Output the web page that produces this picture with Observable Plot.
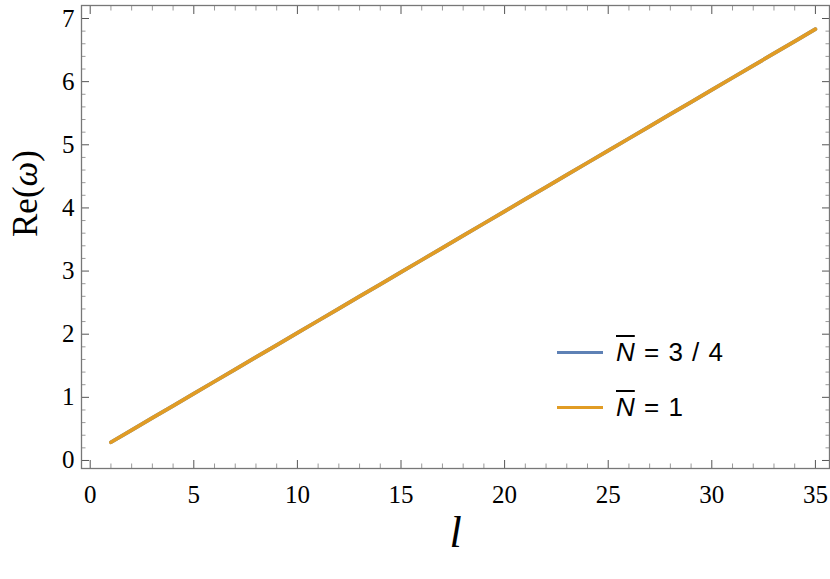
<!DOCTYPE html>
<html><head><meta charset="utf-8">
<script src="https://cdn.jsdelivr.net/npm/d3@7"></script>
<script src="https://cdn.jsdelivr.net/npm/@observablehq/plot@0.6"></script>
<style>
body{margin:0;background:#fff}
#wrap{position:relative;width:830px;height:579px}
#legend{position:absolute;left:557px;top:325px;font-family:"Liberation Sans",Arial,sans-serif;font-size:26px;color:#000;word-spacing:2px}
.row{display:flex;align-items:center;height:55px}
.sw{display:inline-block;width:46px;height:3.5px;margin-right:13px}
.nb{font-style:italic;text-decoration:overline;text-decoration-thickness:2px}
</style></head>
<body><div id="wrap"><div id="legend"></div></div>
<script>
const ls = [1,2,3,4,5,6,7,8,9,10,11,12,13,14,15,16,17,18,19,20,21,22,23,24,25,26,27,28,29,30,31,32,33,34,35];
const reN34 = [0.289,0.481,0.674,0.866,1.058,1.251,1.443,1.636,1.828,2.021,2.213,2.406,2.598,2.790,2.983,3.175,3.368,3.560,3.753,3.945,4.138,4.330,4.522,4.715,4.907,5.100,5.292,5.485,5.677,5.870,6.062,6.254,6.447,6.639,6.832];
const reN1  = [0.289,0.481,0.674,0.866,1.058,1.251,1.443,1.636,1.828,2.021,2.213,2.406,2.598,2.790,2.983,3.175,3.368,3.560,3.753,3.945,4.138,4.330,4.522,4.715,4.907,5.100,5.292,5.485,5.677,5.870,6.062,6.254,6.447,6.639,6.832];
const seriesLabels = ["3 / 4", "1"];
const seriesColors = ["#5E81B5", "#E19C24"];
const xMajor = [0,5,10,15,20,25,30,35];
const xMinor = [1,2,3,4,6,7,8,9,11,12,13,14,16,17,18,19,21,22,23,24,26,27,28,29,31,32,33,34];
const yMajor = [0,1,2,3,4,5,6,7];
const yMinor = [0.2,0.4,0.6,0.8,1.2,1.4,1.6,1.8,2.2,2.4,2.6,2.8,3.2,3.4,3.6,3.8,4.2,4.4,4.6,4.8,5.2,5.4,5.6,5.8,6.2,6.4,6.6,6.8];
const xTitle = "l";
const yTitle = ["Re(", "ω", ")"];

const rows = [];
[reN34, reN1].forEach((vals, s) => vals.forEach((v, i) => rows.push({l: ls[i], re: v, s})));

const serif = "Liberation Serif";
const majorStroke = "#555";
const minorStroke = "#999";

const plot = Plot.plot({
  width: 830, height: 579,
  marginLeft: 81, marginRight: 1, marginTop: 5, marginBottom: 111,
  x: {domain: [-0.42, 35.68]},
  y: {domain: [-0.127, 7.206]},
  style: {fontSize: "25px", color: "#000", background: "#fff"},
  marks: [
    Plot.line(rows.filter(d => d.s === 0), {x: "l", y: "re", stroke: seriesColors[0], strokeWidth: 3.7}),
    Plot.line(rows.filter(d => d.s === 1), {x: "l", y: "re", stroke: seriesColors[1], strokeWidth: 3.7}),
    Plot.axisX(xMajor, {anchor: "bottom", tickSize: -8, fill: "none", stroke: majorStroke, label: null}),
    Plot.axisX(xMinor, {anchor: "bottom", tickSize: -4.5, fill: "none", stroke: minorStroke, label: null}),
    Plot.axisX(xMajor, {anchor: "top", tickSize: -8, fill: "none", stroke: majorStroke, label: null}),
    Plot.axisX(xMinor, {anchor: "top", tickSize: -4.5, fill: "none", stroke: minorStroke, label: null}),
    Plot.axisY(yMajor, {anchor: "left", tickSize: -8, fill: "none", stroke: majorStroke, label: null}),
    Plot.axisY(yMinor, {anchor: "left", tickSize: -4.5, fill: "none", stroke: minorStroke, label: null}),
    Plot.axisY(yMajor, {anchor: "right", tickSize: -8, fill: "none", stroke: majorStroke, label: null}),
    Plot.axisY(yMinor, {anchor: "right", tickSize: -4.5, fill: "none", stroke: minorStroke, label: null}),
    Plot.text(xMajor, {x: d => d, text: d => String(d), frameAnchor: "bottom", lineAnchor: "top", dy: 17, fontSize: 25, fontFamily: serif}),
    Plot.text(yMajor, {y: d => d, text: d => String(d), frameAnchor: "left", textAnchor: "end", dx: -7, fontSize: 25, fontFamily: serif}),
    Plot.frame({stroke: "#777", strokeWidth: 1.3}),
    Plot.text([xTitle], {frameAnchor: "bottom", dy: 78, text: d => d, fontSize: 44, fontStyle: "italic", fontFamily: serif}),
    Plot.text([yTitle.join("")], {frameAnchor: "left", dx: -56, rotate: -90, text: d => d, fontSize: 35, fontFamily: serif, className: "ytitle"})
  ]
});
document.getElementById("wrap").prepend(plot);

// italic omega inside the y title
const yt = plot.querySelector(".ytitle text");
if (yt) {
  yt.textContent = "";
  yTitle.forEach((part, i) => {
    const ts = document.createElementNS("http://www.w3.org/2000/svg", "tspan");
    ts.textContent = part;
    if (i === 1) ts.setAttribute("font-style", "italic");
    yt.appendChild(ts);
  });
}

const legend = document.getElementById("legend");
seriesLabels.forEach((lab, i) => {
  const row = document.createElement("div");
  row.className = "row";
  row.innerHTML = `<span class="sw" style="background:${seriesColors[i]}"></span><span><span class="nb">N</span> = ${lab}</span>`;
  legend.appendChild(row);
});
</script>
</body></html>
